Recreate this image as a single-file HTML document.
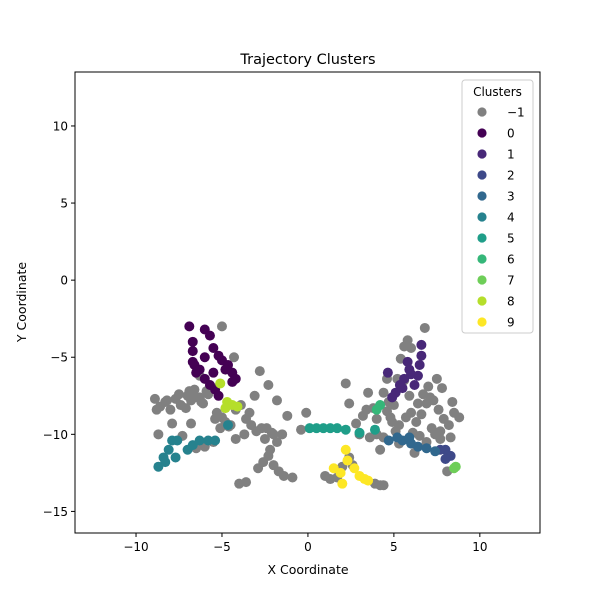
<!DOCTYPE html>
<html><head><meta charset="utf-8"><style>
body{margin:0;background:#fff;font-family:"Liberation Sans","DejaVu Sans",sans-serif}
svg text{font-family:"DejaVu Sans","Liberation Sans",sans-serif}
</style></head><body>
<svg id="chart" width="600" height="600" viewBox="0 0 600 600">
<rect width="600" height="600" fill="#fff"/>
<text x="308" y="64" text-anchor="middle" font-size="14.5">Trajectory Clusters</text>
<text x="308" y="574" text-anchor="middle" font-size="12.5">X Coordinate</text>
<text x="26" y="302" text-anchor="middle" font-size="12.5" transform="rotate(-90 26 302)">Y Coordinate</text>
<g id="ticks"></g>
<g id="points"></g>
<rect x="75" y="72" width="465" height="461" fill="none" stroke="#000" stroke-width="1"/>
<g id="legend"></g>
</svg>
<script>
const xTicks=[-10,-5,0,5,10];
const yTicks=[10,5,0,-5,-10,-15];
const clusterIds=[-1,0,1,2,3,4,5,6,7,8,9];
const clusterColors=["#808080","#440154","#482878","#3e4989","#31688e","#26828e","#1f9e89","#35b779","#6ece58","#b5de2b","#fde725"];
const noiseX=[-8.9,-8.6,-8.3,-8.0,-7.7,-7.4,-7.1,-6.9,-6.6,-6.3,-6.1,-5.8,-5.5,-5.3,-5.0,-4.6,-4.2,-3.9,-3.6,-3.3,-3.0,-2.7,-2.4,-2.1,-1.8,-1.5,-1.2,-1.8,-2.3,-2.8,-3.1,-3.7,-4.2,-4.5,-5.1,-5.5,-6.0,-6.5,-6.8,-7.3,-7.9,-8.7,-5.4,-5.0,-4.3,-6.3,-2.6,-2.3,-2.0,-1.7,-1.4,-2.9,-0.9,-3.6,-4.0,-2.2,-2.0,-7.5,-6.8,-8.8,-0.1,-0.4,1.0,1.3,1.7,2.0,2.4,2.6,3.9,4.2,4.4,2.2,2.4,2.8,3.2,3.5,3.8,4.0,4.4,4.6,4.9,5.1,5.3,5.6,5.9,6.0,6.3,6.6,6.9,7.0,7.3,7.6,7.9,8.2,8.5,8.8,8.3,7.7,7.4,6.5,5.8,5.6,6.0,5.4,5.2,6.8,4.6,3.0,3.6,4.0,4.4,6.2,8.1,7.5,6.7,7.8,8.4,4.2,-6.6,-6.2,-5.9,-7.0,-8.2,-4.8,-3.4,-2.5,5.0,5.7,6.4,7.1,7.2,6.1,5.3,4.8,3.4,4.7,6.9,7.7];
const noiseY=[-7.7,-8.2,-7.9,-8.4,-7.7,-8.1,-8.3,-7.2,-7.1,-7.6,-8.0,-7.4,-7.0,-8.6,-8.9,-9.5,-8.4,-8.1,-9.0,-9.4,-9.8,-9.6,-9.6,-9.9,-10.5,-10.0,-8.8,-7.8,-6.8,-5.9,-7.5,-10.0,-10.3,-9.4,-9.6,-10.5,-10.8,-10.9,-9.3,-10.1,-9.3,-10.0,-9.0,-3.0,-5.0,-6.2,-11.8,-11.4,-12.0,-12.4,-12.7,-12.2,-12.8,-13.1,-13.2,-11.0,-10.0,-7.4,-7.8,-8.4,-8.6,-9.7,-12.7,-12.9,-12.8,-12.1,-11.5,-12.0,-13.2,-13.3,-13.3,-6.7,-8.0,-9.3,-8.8,-7.3,-8.3,-9.0,-7.3,-8.5,-9.2,-9.8,-10.6,-6.5,-7.5,-8.6,-9.2,-8.7,-8.0,-6.9,-7.8,-8.4,-9.0,-9.4,-8.6,-8.9,-10.2,-10.3,-10.0,-10.1,-3.9,-4.3,-4.4,-5.1,-6.4,-3.1,-6.4,-10.0,-10.2,-10.0,-10.2,-11.2,-12.4,-6.4,-7.4,-7.0,-7.9,-11.0,-7.6,-7.9,-7.2,-7.5,-7.8,-9.2,-8.6,-10.3,-8.1,-8.9,-8.0,-7.6,-9.6,-9.9,-9.4,-8.9,-8.4,-7.9,-10.5,-9.8];
const c0X=[-6.9,-6.7,-6.7,-6.7,-6.0,-5.7,-5.5,-5.2,-5.0,-4.65,-4.4,-4.2,-4.4,-6.6,-6.3,-6.0,-5.7,-5.4,-5.2,-6.0,-5.5,-4.8,-6.5];
const c0Y=[-3.0,-4.0,-4.6,-5.3,-3.2,-3.6,-4.4,-4.9,-5.2,-5.5,-6.0,-6.4,-6.6,-5.5,-5.8,-6.4,-6.8,-7.1,-7.5,-5.0,-6.0,-5.8,-6.0];
const c1X=[6.6,6.6,6.5,6.4,5.9,5.6,5.35,5.1,4.9,4.65,6.2,5.8,6.0,5.5];
const c1Y=[-4.2,-4.9,-5.5,-6.2,-5.8,-6.4,-6.8,-7.3,-7.6,-6.0,-6.8,-5.3,-6.1,-7.0];
const c2X=[8.0,8.3,7.7,8.0];
const c2Y=[-11.0,-11.4,-11.0,-11.6];
const c3X=[5.5,6.0,6.4,6.9,7.4,5.9,4.7,5.2];
const c3Y=[-10.4,-10.6,-10.8,-10.9,-11.1,-10.2,-10.4,-10.2];
const c4X=[-8.7,-8.4,-8.1,-7.9,-7.6,-7.0,-6.7,-6.3,-5.8,-5.4,-4.65,-7.7,-8.3];
const c4Y=[-12.1,-11.5,-11.0,-10.4,-10.4,-11.0,-10.7,-10.4,-10.4,-10.4,-9.4,-11.5,-11.8];
const c5X=[0.1,0.5,0.9,1.3,1.7,2.2,3.0,3.9];
const c5Y=[-9.6,-9.6,-9.6,-9.6,-9.6,-9.7,-9.9,-9.7];
const c6X=[4.2,4.0];
const c6Y=[-8.1,-8.4];
const c7X=[8.6,8.5];
const c7Y=[-12.1,-12.2];
const c8X=[-5.1,-4.7,-4.4,-4.1,-4.8];
const c8Y=[-6.7,-7.9,-8.1,-8.2,-8.3];
const c9X=[2.2,1.5,1.9,2.0,2.7,3.0,3.3,3.5,2.3];
const c9Y=[-11.0,-12.2,-12.5,-13.2,-12.2,-12.7,-12.9,-13.0,-11.7];

const NS="http://www.w3.org/2000/svg";
const xMin=-13.55,xMax=13.5,yMin=-16.4,yMax=13.5;
const L=75,R=540,T=72,B=533;
const sx=v=>L+(v-xMin)/(xMax-xMin)*(R-L);
const sy=v=>B-(v-yMin)/(yMax-yMin)*(B-T);
function mk(tag,attrs,parent){const e=document.createElementNS(NS,tag);for(const k in attrs)e.setAttribute(k,attrs[k]);parent.appendChild(e);return e;}
const tg=document.getElementById('ticks');
xTicks.forEach(t=>{const x=sx(t);
 const l=mk('line',{x1:x,x2:x,y1:B,y2:B+4,stroke:'#000'},tg);
 
 
 const tx=mk('text',{x:x,y:B+18,'text-anchor':'middle','font-size':'12'},tg);
 tx.textContent=t<0?'\u2212'+Math.abs(t):String(t);
 
 });
yTicks.forEach(t=>{const y=sy(t);
 const l=mk('line',{x1:L-4,x2:L,y1:y,y2:y,stroke:'#000'},tg);
 
 
 const tx=mk('text',{x:L-7,y:y+4.5,'text-anchor':'end','font-size':'12'},tg);
 tx.textContent=t<0?'\u2212'+Math.abs(t):String(t);
 
 });
const series=[[noiseX,noiseY],[c0X,c0Y],[c1X,c1Y],[c2X,c2Y],[c3X,c3Y],[c4X,c4Y],[c5X,c5Y],[c6X,c6Y],[c7X,c7Y],[c8X,c8Y],[c9X,c9Y]];
const pg=document.getElementById('points');
series.forEach((s,i)=>{s[0].forEach((xv,j)=>{
 const c=mk('circle',{cx:sx(xv),cy:sy(s[1][j]),r:5,fill:clusterColors[i]},pg);
 
 });});
const lg=document.getElementById('legend');
const box=mk('rect',{x:462,y:80,width:71,height:253,rx:3,fill:'#fff','fill-opacity':0.8,stroke:'#ccc'},lg);


const lt=mk('text',{x:497.5,y:96,'text-anchor':'middle','font-size':'12'},lg);
lt.textContent='Clusters';


clusterIds.forEach((id,i)=>{const y=112+21*i;
 const c=mk('circle',{cx:482,cy:y,r:4.6,fill:clusterColors[i]},lg);
 
 
 const t=mk('text',{x:507,y:y+4.5,'font-size':'12'},lg);
 t.textContent=id<0?'\u2212'+Math.abs(id):String(id);
 
 });
</script>
</body></html>
